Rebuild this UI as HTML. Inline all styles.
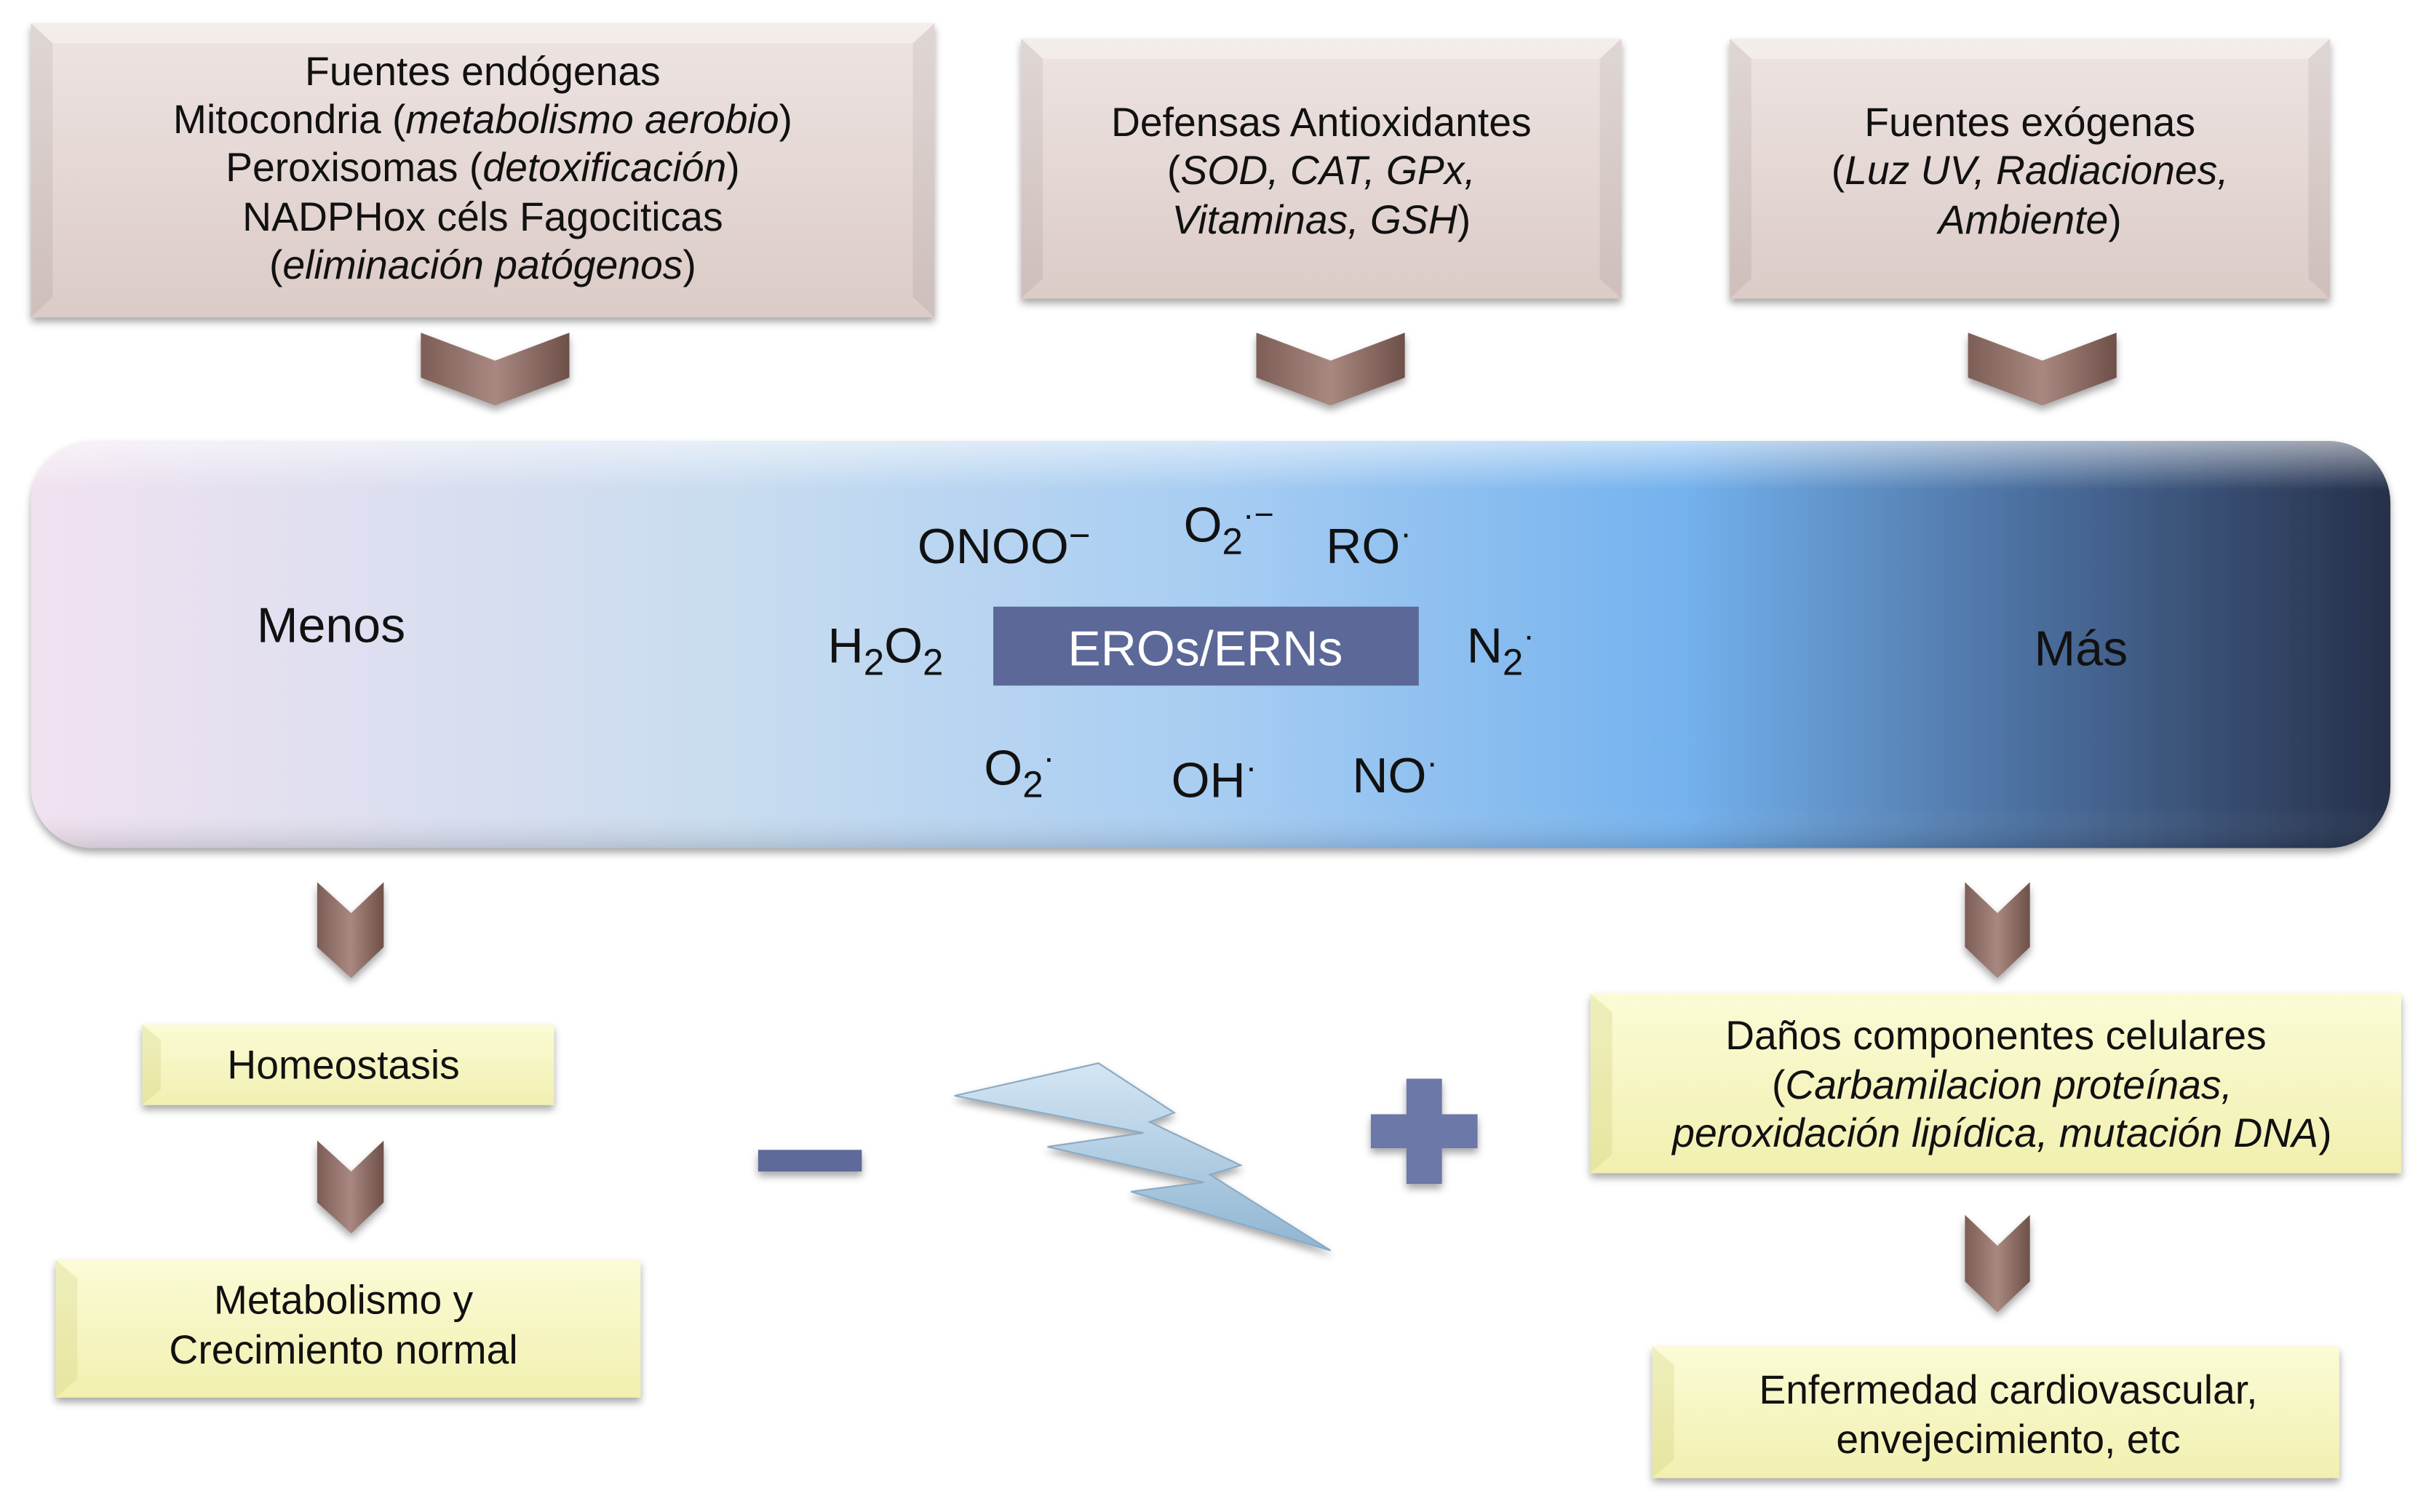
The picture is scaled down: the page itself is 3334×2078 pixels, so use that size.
<!DOCTYPE html>
<html><head><meta charset="utf-8"><style>
html,body{margin:0;padding:0;background:#fff}
svg{display:block}
text{font-family:"Liberation Sans",sans-serif;fill:#111}
</style></head><body>
<svg width="3334" height="2078" viewBox="0 0 1568 977" preserveAspectRatio="none" xmlns="http://www.w3.org/2000/svg">
<defs>
<linearGradient id="pink" x1="0" y1="0" x2="0" y2="1"><stop offset="0" stop-color="#ede4e2"/><stop offset="1" stop-color="#dccbc7"/></linearGradient>
<linearGradient id="yel" x1="0" y1="0" x2="0" y2="1"><stop offset="0" stop-color="#fbfbd6"/><stop offset="1" stop-color="#f1f0b0"/></linearGradient>
<linearGradient id="bar" x1="0" y1="0" x2="1" y2="0">
<stop offset="0" stop-color="#f1e2f0"/><stop offset="0.3" stop-color="#c8dcf0"/><stop offset="0.5" stop-color="#a8cdf2"/><stop offset="0.7" stop-color="#74b2ee"/><stop offset="0.84" stop-color="#4d72a2"/><stop offset="1" stop-color="#26304a"/></linearGradient>
<linearGradient id="barhi" x1="0" y1="0" x2="0" y2="1"><stop offset="0" stop-color="#fff" stop-opacity="0.55"/><stop offset="0.12" stop-color="#fff" stop-opacity="0"/><stop offset="0.9" stop-color="#fff" stop-opacity="0"/><stop offset="1" stop-color="#000" stop-opacity="0.12"/></linearGradient>
<linearGradient id="brown" x1="0" y1="0" x2="1" y2="0"><stop offset="0" stop-color="#7d5e56"/><stop offset="0.5" stop-color="#a88880"/><stop offset="1" stop-color="#6e5049"/></linearGradient>
<linearGradient id="bolt" x1="0" y1="0" x2="0" y2="1"><stop offset="0" stop-color="#d4e6f4"/><stop offset="1" stop-color="#8fb5d2"/></linearGradient>
<filter id="sh" x="-5%" y="-5%" width="110%" height="120%"><feDropShadow dx="0" dy="3" stdDeviation="2.5" flood-opacity="0.35"/></filter>
</defs>

<g filter="url(#sh)">
<rect x="20" y="15" width="584" height="190" fill="url(#pink)"/>
<rect x="660" y="25" width="388" height="168" fill="url(#pink)"/>
<rect x="1118" y="25" width="388" height="168" fill="url(#pink)"/>
</g>
<g fill="#fff" opacity="0.35">
<polygon points="20,15 604,15 590,28 34,28"/><polygon points="660,25 1048,25 1034,38 674,38"/><polygon points="1118,25 1506,25 1492,38 1132,38"/>
</g>
<g fill="#000" opacity="0.06">
<polygon points="20,15 34,28 34,192 20,205"/><polygon points="604,15 590,28 590,192 604,205"/>
<polygon points="660,25 674,38 674,180 660,193"/><polygon points="1048,25 1034,38 1034,180 1048,193"/>
<polygon points="1118,25 1132,38 1132,180 1118,193"/><polygon points="1506,25 1492,38 1492,180 1506,193"/>
</g>
<g font-size="26" text-anchor="middle">
<text x="312" y="55">Fuentes endógenas</text>
<text x="312" y="86">Mitocondria (<tspan font-style="italic">metabolismo aerobio</tspan>)</text>
<text x="312" y="117">Peroxisomas (<tspan font-style="italic">detoxificación</tspan>)</text>
<text x="312" y="149">NADPHox céls Fagociticas</text>
<text x="312" y="180">(<tspan font-style="italic">eliminación patógenos</tspan>)</text>
<text x="854" y="88">Defensas Antioxidantes</text>
<text x="854" y="119">(<tspan font-style="italic">SOD, CAT, GPx,</tspan></text>
<text x="854" y="151"><tspan font-style="italic">Vitaminas, GSH</tspan>)</text>
<text x="1312" y="88">Fuentes exógenas</text>
<text x="1312" y="119">(<tspan font-style="italic">Luz UV, Radiaciones,</tspan></text>
<text x="1312" y="151"><tspan font-style="italic">Ambiente</tspan>)</text>
</g>

<g fill="url(#brown)" filter="url(#sh)">
<polygon points="272,215 320,233 368,215 368,244 320,262 272,244"/>
<polygon points="812,215 860,233 908,215 908,244 860,262 812,244"/>
<polygon points="1272,215 1320,233 1368,215 1368,244 1320,262 1272,244"/>
</g>

<g filter="url(#sh)"><rect x="20" y="285" width="1525" height="263" rx="40" fill="url(#bar)"/></g>
<rect x="20" y="285" width="1525" height="263" rx="40" fill="url(#barhi)"/>
<text x="214" y="415" font-size="32" text-anchor="middle">Menos</text>
<text x="1345" y="430" font-size="32" text-anchor="middle">Más</text>
<rect x="642" y="392" width="275" height="51" fill="#5c6898"/>
<text x="779" y="430" font-size="32" text-anchor="middle" style="fill:#fff">EROs/ERNs</text>
<g font-size="32">
<text x="593" y="364">ONOO<tspan font-size="24" dy="-10">−</tspan></text>
<text x="765" y="350">O<tspan font-size="24" dy="8">2</tspan><tspan font-size="22" dy="-18">·−</tspan></text>
<text x="857" y="364">RO<tspan font-size="22" dy="-12">·</tspan></text>
<text x="535" y="428">H<tspan font-size="24" dy="8">2</tspan><tspan dy="-8">O</tspan><tspan font-size="24" dy="8">2</tspan></text>
<text x="948" y="428">N<tspan font-size="24" dy="8">2</tspan><tspan font-size="22" dy="-18">·</tspan></text>
<text x="636" y="507">O<tspan font-size="24" dy="8">2</tspan><tspan font-size="22" dy="-18">·</tspan></text>
<text x="757" y="515">OH<tspan font-size="22" dy="-12">·</tspan></text>
<text x="874" y="512">NO<tspan font-size="22" dy="-12">·</tspan></text>
</g>

<g fill="url(#brown)" filter="url(#sh)">
<polygon points="205,570 227,590 248,570 248,612 227,632 205,612"/>
<polygon points="1270,570 1291,590 1312,570 1312,612 1291,632 1270,612"/>
<polygon points="205,737 227,757 248,737 248,777 227,797 205,777"/>
<polygon points="1270,785 1291,805 1312,785 1312,828 1291,848 1270,828"/>
</g>

<g filter="url(#sh)">
<rect x="92" y="662" width="266" height="52" fill="url(#yel)"/>
<rect x="36" y="814" width="378" height="89" fill="url(#yel)"/>
<rect x="1028" y="642" width="524" height="116" fill="url(#yel)"/>
<rect x="1068" y="870" width="444" height="85" fill="url(#yel)"/>
</g>
<g fill="#c8c870" opacity="0.25">
<polygon points="92,662 104,672 104,704 92,714"/><polygon points="36,814 50,826 50,891 36,903"/>
<polygon points="1028,642 1042,654 1042,746 1028,758"/><polygon points="1068,870 1082,882 1082,943 1068,955"/>
</g>
<g font-size="26" text-anchor="middle">
<text x="222" y="697">Homeostasis</text>
<text x="222" y="849">Metabolismo y</text>
<text x="222" y="881">Crecimiento normal</text>
<text x="1290" y="678">Daños componentes celulares</text>
<text x="1294" y="710">(<tspan font-style="italic">Carbamilacion proteínas,</tspan></text>
<text x="1294" y="741"><tspan font-style="italic">peroxidación lipídica, mutación DNA</tspan>)</text>
<text x="1298" y="907">Enfermedad cardiovascular,</text>
<text x="1298" y="939">envejecimiento, etc</text>
</g>

<g filter="url(#sh)">
<rect x="490" y="743" width="67" height="14" fill="#5f6a9a"/>
<polygon points="617,708 710,687 759,719 743,725 802,753 782,759 860,808 731,770 778,764 677,741 739,732" fill="url(#bolt)" stroke="#8aaac4" stroke-width="1"/>
<polygon points="909,697 932,697 932,720 955,720 955,742 932,742 932,765 909,765 909,742 886,742 886,720 909,720" fill="#6c78a8"/>
</g>
</svg>
</body></html>
